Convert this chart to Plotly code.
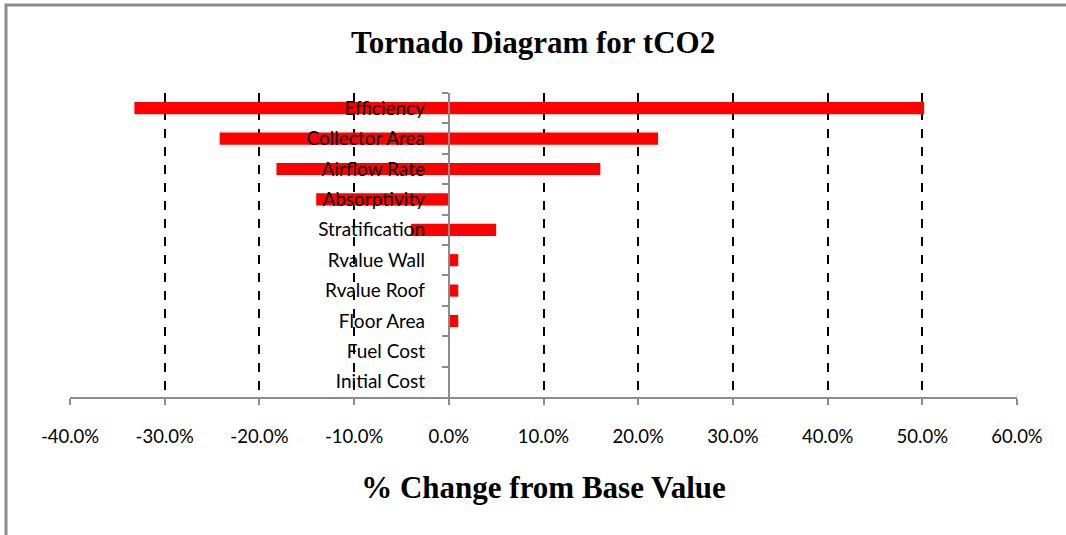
import plotly.graph_objects as go

categories = ["Efficiency", "Collector Area", "Airflow Rate", "Absorptivity", "Stratification",
              "Rvalue Wall", "Rvalue Roof", "Floor Area", "Fuel Cost", "Initial Cost"]
low_values = [-33.2, -24.2, -18.2, -14.0, -4.0, 0.0, 0.0, 0.0, 0.0, 0.0]
high_values = [50.2, 22.1, 16.0, 0.0, 5.0, 1.0, 1.0, 1.0, 0.0, 0.0]
x_tickvals = [-40, -30, -20, -10, 0, 10, 20, 30, 40, 50, 60]
x_ticktext = [f"{v:.1f}%" for v in x_tickvals]

fig = go.Figure()
for vals in (low_values, high_values):
    fig.add_trace(go.Bar(y=categories, x=vals, orientation="h",
                         marker=dict(color="#FF0000", line=dict(width=0)),
                         showlegend=False, hoverinfo="x+y"))

fig.update_layout(
    width=1066, height=535,
    margin=dict(l=70, r=49, t=93, b=138),
    paper_bgcolor="white", plot_bgcolor="white",
    barmode="overlay", bargap=0.6,
    title=dict(text="<b>Tornado Diagram for tCO2</b>", x=0.5, xanchor="center",
               y=1 - 42 / 535, yanchor="middle",
               font=dict(family="Liberation Serif", size=31, color="black")),
    xaxis=dict(range=[-40, 60], tickvals=x_tickvals, ticktext=x_ticktext,
               showgrid=True, gridcolor="black", griddash="dash", gridwidth=1.5,
               zeroline=False, showline=True, linecolor="#8c8c8c", linewidth=2,
               ticks="outside", ticklen=6, tickcolor="#8c8c8c", tickwidth=2,
               ticklabelstandoff=16,
               tickfont=dict(family="Lato", size=18.5, color="black"),
               title=dict(text="<b>% Change from Base Value</b>", standoff=30,
                          font=dict(family="Liberation Serif", size=31, color="black"))),
    yaxis=dict(categoryorder="array", categoryarray=categories, autorange="reversed",
               anchor="free", position=0.4, showgrid=False, zeroline=False,
               showline=True, linecolor="#8c8c8c", linewidth=2,
               ticks="outside", ticklen=6, tickcolor="#8c8c8c", tickwidth=2,
               tickson="boundaries", ticklabelstandoff=19,
               tickfont=dict(family="Lato", size=19, color="black")),
    shapes=[dict(type="rect", xref="paper", yref="paper",
                 x0=-64 / 947, x1=1.2, y0=-0.6, y1=1 + 88 / 304,
                 line=dict(color="#8c8c8c", width=3), fillcolor="rgba(0,0,0,0)", layer="below")],
)

fig.write_html("out.html", config={"displayModeBar": False},
               post_script="document.body.style.margin='0';document.body.style.overflow='hidden';")
